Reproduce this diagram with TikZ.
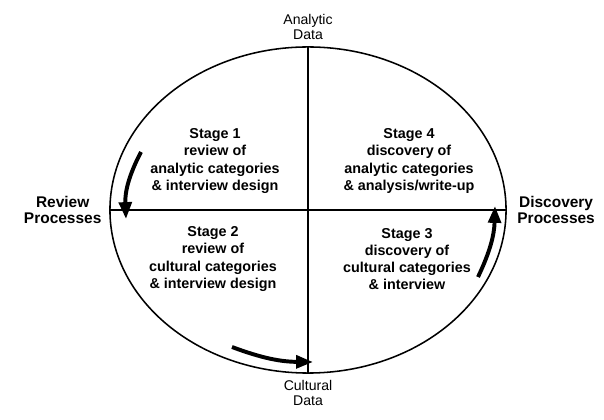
\documentclass[tikz,border=0pt]{standalone}
\usepackage{fontspec}
\setmainfont{Liberation Sans}
\usetikzlibrary{arrows.meta, positioning, shapes.geometric}

\begin{document}
\begin{tikzpicture}[
    x=0.025cm, y=0.025cm,
    stage/.style={align=center, font=\fontsize{10.2}{12.2}\selectfont\bfseries},
    axis/.style={align=center, font=\fontsize{10}{10.8}\selectfont},
    side/.style={align=center, font=\fontsize{11}{12}\selectfont\bfseries},
    divider/.style={line width=0.8pt},
    flow/.style={-{Triangle[length=12pt, width=9pt]}, line width=2.8pt}
]
\useasboundingbox (0,0) rectangle (604,420);

% Outer cycle and the two dividing axes
\node[draw, ellipse, line width=1.1pt, minimum width=9.9cm, minimum height=8.15cm, inner sep=0pt] (cycle) at (308,210) {};
\draw[divider] (cycle.north) -- (cycle.south);
\draw[divider] (cycle.west) -- (cycle.east);

% Axis labels
\node[axis, above=1pt of cycle.north] (analytic) {Analytic\\Data};
\node[axis, below=1pt of cycle.south] (cultural) {Cultural\\Data};
\node[side, left=2pt of cycle.west] (review) {Review\\Processes};
\node[side, right=4pt of cycle.east] (discovery) {Discovery\\Processes};

% Quadrants
\node[stage] (stage1) at (215,259) {Stage 1\\review of\\analytic categories\\\& interview design};
\node[stage] (stage4) at (409,259) {Stage 4\\discovery of\\analytic categories\\\& analysis/write-up};
\node[stage] (stage2) at (213,161) {Stage 2\\review of\\cultural categories\\\& interview design};
\node[stage] (stage3) at (407,161) {Stage 3\\discovery of\\cultural categories\\\& interview};

% Direction of movement round the cycle
\coordinate (r1) at (141,268);
\coordinate (r2) at (126,201);
\coordinate (c1) at (232,73);
\coordinate (c2) at (313,58);
\coordinate (d1) at (478,143);
\coordinate (d2) at (495,214);
\draw[flow] (r1) to[bend right=15] (r2);
\draw[flow] (c1) to[bend right=10] (c2);
\draw[flow] (d1) to[bend right=12] (d2);

\end{tikzpicture}
\end{document}
